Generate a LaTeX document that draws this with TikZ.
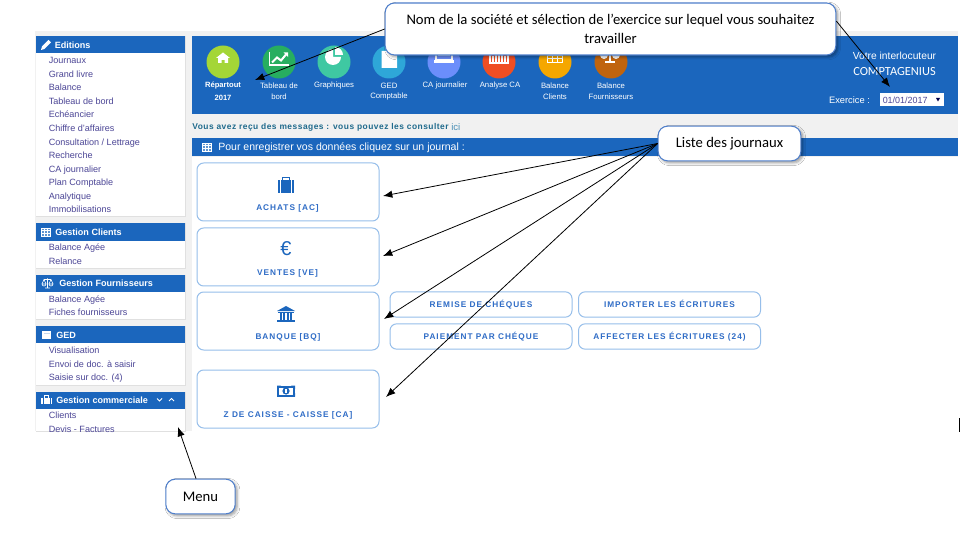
\documentclass[tikz,border=0pt]{standalone}
\usepackage{fontspec}
\setmainfont{Liberation Sans}
\newfontfamily\calib{Carlito}
\newfontfamily\spaced[LetterSpace=12]{Liberation Sans}
\newfontfamily\msgfont[LetterSpace=6]{Liberation Sans}
\usetikzlibrary{arrows.meta,shadows.blur}
\definecolor{bar}{HTML}{1B66BD}
\definecolor{page}{HTML}{F1F1F1}
\definecolor{menutxt}{HTML}{4C4696}
\definecolor{btnline}{HTML}{96BEEA}
\definecolor{btntxt}{HTML}{2F6CC6}
\definecolor{callline}{HTML}{4F7FCB}
\definecolor{msgcol}{HTML}{1F6A8C}
\definecolor{icicol}{HTML}{4A8FB5}
\newcommand\fs[1]{\fontsize{#1}{#1}\selectfont}
\tikzset{
 menuhead/.style={anchor=west,text=white,font=\fs{6.8}\bfseries,inner sep=0pt,text height=6pt,text depth=1pt},
 menuitem/.style={anchor=west,text=menutxt,font=\fs{6.8},inner sep=0pt,text height=6pt,text depth=1pt},
 toplabel/.style={text=white,font=\fs{5.8},align=center,inner sep=0pt},
 bigbtn/.style={draw=btnline,line width=.75pt,rounded corners=5pt,fill=white,minimum width=136.5pt,minimum height=43.5pt,inner sep=0pt},
 smallbtn/.style={draw=btnline,line width=.75pt,rounded corners=5pt,fill=white,minimum width=136.5pt,minimum height=19pt,inner sep=0pt,text=btntxt,font=\fs{6.2}\spaced\bfseries,text height=4.5pt,text depth=.5pt},
 btnlabel/.style={text=btntxt,font=\fs{6.2}\spaced\bfseries,inner sep=0pt,text height=4.5pt,text depth=.5pt},
 callout/.style={draw=callline,line width=.8pt,rounded corners=7pt,fill=white,font=\calib\fs{11},align=center,inner sep=0pt,blur shadow={shadow xshift=1.5pt,shadow yshift=-1.5pt,shadow blur steps=5,shadow opacity=40}},
 pointer/.style={draw=black,line width=.6pt,-{Latex[length=7pt,width=5.5pt]}},
 pics/homeicon/.style={code={\fill[white] (-7,0)--(0,-5.5)--(7,0)--(5,0)--(5,5)--(1.5,5)--(1.5,2)--(-1.5,2)--(-1.5,5)--(-5,5)--(-5,0)--cycle;}},
 pics/charticon/.style={code={\draw[white,line width=.9pt] (-9.5,-6.5)--(-9.5,6.5)--(9.5,6.5);\draw[white,line width=1.5pt] (-7,4)--(-2,-1)--(2,2)--(7,-4);\fill[white] (9,-6)--(9,-1.5)--(4.5,-6)--cycle;}},
 pics/pieicon/.style={code={\fill[white] (-1,-8) arc (-90:-360:8) -- (-1,0) -- cycle;\fill[white] (1,-2)--(9,-2) arc (0:-90:8)--cycle;}},
 pics/foldericon/.style={code={\fill[white] (-7.5,-9)--(1,-9)--(2.5,-6)--(8,-6)--(8,8)--(-7.5,8)--cycle;}},
 pics/laptopicon/.style={code={\draw[white,line width=1pt] (-8,-7) rectangle (8,6);\fill[white] (-10,6) rectangle (10,9);\foreach\q in {-5,-2,1}{\draw[white,line width=.4pt] (-6,\q)--(6,\q);}}},
 pics/barsicon/.style={code={\draw[white,line width=.9pt] (-9,-7)--(-9,8)--(9,8)--(9,-7);\foreach\q/\h in {-7/1,-4/-2,-1/0,2/-3,5/1}{\fill[white] (\q,7) rectangle (\q+1.8,\h);}}},
 pics/tableicon/.style={code={\draw[white,line width=.6pt] (-7.5,-5) rectangle (7.5,5);\draw[white,line width=.6pt] (-7.5,-1.5)--(7.5,-1.5) (-7.5,1.8)--(7.5,1.8) (-2.5,-5)--(-2.5,5) (2.5,-5)--(2.5,5);}},
 pics/scaleicon/.style={code={\draw[white,line width=.9pt] (0,-9)--(0,7) (-5,7)--(5,7) (-8,-6)--(8,-6);\draw[white,line width=.6pt] (-10,0)--(-6,-6)--(-2,0) (10,0)--(6,-6)--(2,0);\fill[white] (-10,0) arc (180:0:4) -- cycle;\fill[white] (2,0) arc (180:0:4)--cycle;}},
 pics/minitable/.style={code={\draw[white,line width=.45pt,fill=white,fill opacity=.3] (-4.5,-4) rectangle (4.5,4);\draw[white,line width=.4pt] (-4.5,-1.3)--(4.5,-1.3) (-4.5,1.3)--(4.5,1.3) (-1.5,-4)--(-1.5,4) (1.5,-4)--(1.5,4);}},
 pics/minipencil/.style={code={\fill[white] (-5,5)--(-4,1.5)--(2.5,-5)--(5,-2.5)--(-1.5,4)--cycle;}},
 pics/minicase/.style={code={\fill[white] (-5.5,-2.5) rectangle (5.5,4);\draw[white,line width=.6pt] (-2,-2.5)--(-2,-4.5)--(2,-4.5)--(2,-2.5);\draw[bar,line width=.3pt] (-3.5,-2.5)--(-3.5,4) (3.5,-2.5)--(3.5,4);}},
 pics/minibox/.style={code={\fill[white] (-4.5,-4) rectangle (4.5,4);\fill[white!75!bar] (-3,-2.2) rectangle (3,-.9);}},
 pics/miniscale/.style={code={\draw[white,line width=.45pt] (0,-5)--(0,4.5) (-2.5,4.5)--(2.5,4.5) (-3.5,-4)--(3.5,-4) (-5.5,.5)--(-3.5,-4)--(-1.5,.5) (5.5,.5)--(3.5,-4)--(1.5,.5);\draw[white,line width=.45pt] (-5.5,.5) arc (180:0:2) -- cycle (1.5,.5) arc (180:0:2) -- cycle;}},
 pics/bigcase/.style={code={\fill[bar] (-8,-4.5) rectangle (8,8);\draw[bar,line width=1pt] (-3.5,-4.5)--(-3.5,-7.5)--(3.5,-7.5)--(3.5,-4.5);\draw[white,line width=.6pt] (-5.5,-4.5)--(-5.5,8) (5.5,-4.5)--(5.5,8);}},
 pics/bigbank/.style={code={\fill[bar] (-9,-3)--(0,-8)--(9,-3)--cycle;\fill[bar] (-8,-2) rectangle (8,-.8);\fill[bar] (-9,6) rectangle (9,8);\foreach\q in {-6.5,-3,.5,4}{\fill[bar] (\q,-.8) rectangle (\q+2,5.5);}}},
 pics/bigmoney/.style={code={\fill[bar] (-9,-5.5) rectangle (9,5.5);\fill[white] (-7,-3.5) rectangle (7,3.5);\fill[bar] (-9,-5.5) -- (-5,-5.5) -- (-9,-2) -- cycle (9,-5.5)--(5,-5.5)--(9,-2)--cycle (-9,5.5)--(-5,5.5)--(-9,2)--cycle (9,5.5)--(5,5.5)--(9,2)--cycle;\fill[bar] (0,0) circle (3.6);\fill[white] (-.7,-2) rectangle (.8,2);}},
}
\begin{document}
\begin{tikzpicture}[x=.75pt,y=-.75pt]
\useasboundingbox (0,0) rectangle (980,534);
\fill[white] (0,0) rectangle (980,534);
% page background
\fill[page] (35,31) rectangle (958,157);
\fill[page] (35,31) rectangle (192,431);
\fill[white] (192,157) rectangle (958,431);
% side menu
\foreach \a/\b/\c in {36/53/216.5,223/241/268,275/292/319,326/343/385,391.5/408.5/431}{
  \fill[black!12] (35.5,\a) rectangle (185.5,{\c+1});
  \fill[white] (35.5,\a) rectangle (184.5,\c);
  \fill[bar] (35.5,\a) rectangle (184.5,\b);
}
\pic at (46,45) {minipencil};
\node[menuhead] (m1) at (54.5,45) {Editions};
\foreach \n/\t/\y in {a/Journaux/60.5,b/Grand livre/74,c/Balance/87.5,d/Tableau de bord/101,e/Echéancier/114.5,f/Chiffre d'affaires/128,g/{Consultation / Lettrage}/142,h/Recherche/155.5,i/CA journalier/169,j/Plan Comptable/182.5,k/Analytique/196,l/Immobilisations/209.5}{
  \node[menuitem] (e\n) at (48.5,\y) {\t};
}
\pic at (46,232) {minitable};
\node[menuhead] (m2) at (55,232) {Gestion Clients};
\node[menuitem] (c1) at (48.5,247.5) {Balance Agée};
\node[menuitem] (c2) at (48.5,261) {Relance};
\pic at (47.5,283.5) {miniscale};
\node[menuhead] (m3) at (59,283.5) {Gestion Fournisseurs};
\node[menuitem] (f1) at (48.5,299) {Balance Agée};
\node[menuitem] (f2) at (48.5,312.5) {Fiches fournisseurs};
\pic at (46.5,335) {minibox};
\node[menuhead] (m4) at (56,335) {GED};
\node[menuitem] (g1) at (48.5,350.5) {Visualisation};
\node[menuitem] (g2) at (48.5,364) {Envoi de doc. à saisir};
\node[menuitem] (g3) at (48.5,377.5) {Saisie sur doc. (4)};
\pic at (46.5,400) {minicase};
\node[menuhead] (m5) at (56,400) {Gestion commerciale};
\draw[white,line width=.6pt] (157,398.5)--(159.5,401)--(162,398.5) (169,401)--(171.5,398.5)--(174,401);
\node[menuitem] (k1) at (48.5,415.5) {Clients};
\begin{scope}
\clip (35,420) rectangle (185,432);
\node[menuitem] (k2) at (48.5,429) {Devis - Factures};
\end{scope}
% top bar
\fill[bar] (192,36) rectangle (958,114);
\foreach \x/\col in {223/A4D637,279/27AE60,334/3FC8A2,389/2EA7D8,444/6B8EFB,499/F04E23,555/F5A700,611/C0640E}{
  \definecolor{tmpc}{HTML}{\col}
  \fill[tmpc] (\x,62) circle (16.5);
}
\pic at (223,58) {homeicon};
\pic at (279,58.5) {charticon};
\pic at (334,57) {pieicon};
\pic at (389,60) {foldericon};
\pic at (444,54) {laptopicon};
\pic at (499,55) {barsicon};
\pic at (555,57) {tableicon};
\pic at (610,55) {scaleicon};
\node[toplabel,font=\fs{5.7}\bfseries] (t1) at (223,85.5) {Répartout};
\node[toplabel,font=\fs{5.7}\bfseries] (t1b) at (223,98) {2017};
\node[toplabel] (t2) at (279,86) {Tableau de};
\node[toplabel] (t2b) at (279,96.5) {bord};
\node[toplabel] (t3) at (334,86) {Graphiques};
\node[toplabel] (t4) at (389,86) {GED};
\node[toplabel] (t4b) at (389,96.5) {Comptable};
\node[toplabel] (t5) at (445,86) {CA journalier};
\node[toplabel] (t6) at (500,86) {Analyse CA};
\node[toplabel] (t7) at (555,86) {Balance};
\node[toplabel] (t7b) at (555,96.5) {Clients};
\node[toplabel] (t8) at (611,86) {Balance};
\node[toplabel] (t8b) at (611,96.5) {Fournisseurs};
\node[toplabel,font=\fs{7.7}] (v1) at (894.5,56) {Votre interlocuteur};
\node[toplabel,font=\calib\fs{9.3}] (v2) at (894.5,71.5) {COMPTAGENIUS};
\node[toplabel,font=\fs{7}] (v3) at (849.5,100) {Exercice :};
\node[fill=white,minimum width=48pt,minimum height=9.5pt,inner sep=0pt] (sel) at (912,99.5) {};
\node[anchor=west,inner sep=0pt,text=menutxt,font=\fs{6.7}] (seltxt) at (882.5,100) {01/01/2017};
\fill[black!70!blue] (936,98)--(940,98)--(938,101.5)--cycle;
% message line
\node[anchor=west,inner sep=0pt,text=msgcol,font=\fs{6.3}\msgfont\bfseries] (msg) at (192,127.5) {Vous avez reçu des messages : vous pouvez les consulter};
\node[anchor=west,inner sep=0pt,text=icicol,font=\fs{7.2}] (ici) at (451,127.5) {ici};
% heading bar
\fill[bar] (192,138) rectangle (958,156);
\pic at (207,147) {minitable};
\node[anchor=west,inner sep=0pt,text=white,font=\fs{7.9}] (head) at (218,148) {Pour enregistrer vos données cliquez sur un journal :};
% journal buttons
\node[bigbtn] (ach) at (288,192) {};
\node[bigbtn] (ven) at (288,257) {};
\node[bigbtn] (ban) at (288,321) {};
\node[bigbtn] (zc) at (288,399) {};
\pic at (286,185) {bigcase};
\node[inner sep=0pt,text=bar,font=\fs{15}] (eur) at (286,249) {€};
\pic at (286,314) {bigbank};
\pic at (286,391) {bigmoney};
\node[btnlabel] (l1) at (287.5,208) {ACHATS [AC]};
\node[btnlabel] (l2) at (287.5,272.5) {VENTES [VE]};
\node[btnlabel] (l3) at (288,337) {BANQUE [BQ]};
\node[btnlabel] (l4) at (288,414.5) {Z DE CAISSE - CAISSE [CA]};
\node[smallbtn] (s1) at (481,304.5) {REMISE DE CHÉQUES};
\node[smallbtn] (s2) at (669.5,304.5) {IMPORTER LES ÉCRITURES};
\node[smallbtn] (s3) at (481,336.5) {PAIEMENT PAR CHÉQUE};
\node[smallbtn] (s4) at (669.5,336.5) {AFFECTER LES ÉCRITURES (24)};
\fill[black] (958.6,418) rectangle (959.6,432);
% call-outs
\node[callout,minimum width=338pt,minimum height=39pt] (top) at (610.5,29) {Nom de la société et sélection de l’exercice sur lequel vous souhaitez\\[3.5pt]travailler};
\node[callout,minimum width=107pt,minimum height=26pt] (liste) at (729.5,143.5) {Liste des journaux};
\node[callout,minimum width=52pt,minimum height=26pt] (menu) at (200.5,496.5) {Menu};
% connector ends
\coordinate (toRep) at (255,80);
\coordinate (toEx) at (890,87);
\coordinate (toAch) at (383,196);
\coordinate (toVen) at (383,256);
\coordinate (toBan) at (384,319);
\coordinate (toZ) at (386,397);
\coordinate (toMenu) at (178,427);
\draw[pointer] (top.west) -- (toRep);
\draw[pointer] (top.2) -- (toEx);
\draw[pointer] (liste.west) -- (toAch);
\draw[pointer] (liste.west) -- (toVen);
\draw[pointer] (liste.west) -- (toBan);
\draw[pointer] (liste.west) -- (toZ);
\draw[pointer] (menu.104) -- (toMenu);
\end{tikzpicture}
\end{document}
